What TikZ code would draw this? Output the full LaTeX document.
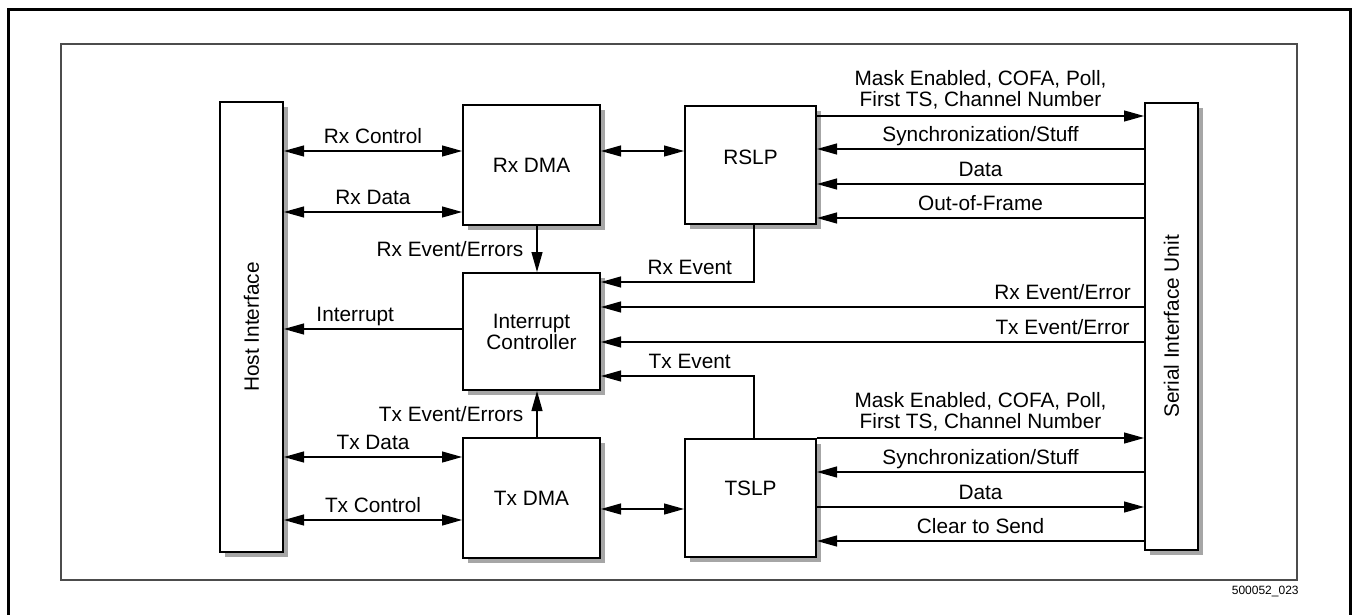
\documentclass[tikz,border=0pt]{standalone}
\usepackage{fontspec}
\setmainfont{Liberation Sans}
\usepackage{graphicx}
\usepackage{tikz}
\usetikzlibrary{
    arrows.meta,
    positioning,
    shadows
}
\tikzstyle{blk} = [
    rectangle, draw,
    line width=1pt,
    fill=white,
    align=center,
    drop shadow={shadow xshift=2.5pt, shadow yshift=-2.5pt, fill=black!35, opacity=1}
]
\tikzstyle{sig} = [
    line width=0.6pt,
    -{Triangle[length=10pt, width=5.5pt]}
]
\tikzstyle{bus} = [
    line width=0.6pt,
    {Triangle[length=10pt, width=5.5pt]}-{Triangle[length=10pt, width=5.5pt]}
]
\tikzstyle{lbl} = [
    inner sep=0pt,
    text depth=0pt,
    align=center,
    font=\fontsize{10.4}{10.5}\selectfont
]

\begin{document}
\begin{tikzpicture}[
    x=0.5pt, y=-0.5pt,
    node distance=23pt and 41.5pt,
    font=\fontsize{10.4}{10.5}\selectfont
]
\useasboundingbox (0,0) rectangle (1353,615);

% Rahmen
\draw [line width=1.5pt] (8.5,620) -- (8.5,10) -- (1350,10) -- (1350,620);
\draw [line width=1pt, black!70] (61,44) rectangle (1297,580);
\node (figno) [anchor=base east, inner sep=0pt, font=\fontsize{6}{7}\selectfont]
    at (1299,594) {500052\_023};

\node (host) [blk, minimum width=31.5pt, minimum height=225pt] at (251.5,327)
    {\rotatebox{90}{Host Interface}};
\node (rxdma) [blk, minimum width=68.5pt, minimum height=60pt] at (531.5,165)
    {Rx DMA};
\node (intc) [blk, minimum width=68.5pt, minimum height=58.5pt, below=of rxdma]
    {Interrupt\\Controller};
\node (txdma) [blk, minimum width=68.5pt, minimum height=60pt, below=of intc]
    {Tx DMA};
\node (rslp) [blk, minimum width=65.5pt, minimum height=59pt, text depth=8pt, right=of rxdma]
    {RSLP};
\node (tslp) [blk, minimum width=65.5pt, minimum height=59pt, text depth=10pt, right=of txdma]
    {TSLP};
\node (siu) [blk, minimum width=26.5pt, minimum height=223.5pt] at (1171.5,326.5)
    {\rotatebox{90}{Serial Interface Unit}};

% Host <-> DMA
\draw [bus] (host.east |- 0,151) -- node[lbl, above=3.5pt] (rxctl) {Rx Control} (rxdma.west |- 0,151);
\draw [bus] (host.east |- 0,212) -- node[lbl, above=3.5pt] (rxdat) {Rx Data} (rxdma.west |- 0,212);
\draw [bus] (host.east |- 0,457) -- node[lbl, above=3.5pt] (txdat) {Tx Data} (txdma.west |- 0,457);
\draw [bus] (host.east |- 0,520) -- node[lbl, above=3.5pt] (txctl) {Tx Control} (txdma.west |- 0,520);
\draw [bus] (rxdma.east |- 0,151) -- (rslp.west |- 0,151);
\draw [bus] (txdma.east |- 0,509) -- (tslp.west |- 0,509);

% Interrupts
\draw [sig] (intc.west |- 0,329) -- node[lbl, above=3.5pt, pos=0.6] (irq) {Interrupt} (host.east |- 0,329);
\draw [sig] (rxdma.south -| 537,0) -- node[lbl, left=6.5pt] (rxdmaev) {Rx Event/Errors} (intc.north -| 537,0);
\draw [sig] (txdma.north -| 537,0) -- node[lbl, left=6.5pt] (txdmaev) {Tx Event/Errors} (intc.south -| 537,0);
\draw [sig] ([xshift=1.75pt]rslp.south) |- node[lbl, above=3.5pt, pos=0.71] (rxev) {Rx Event} (intc.east |- 0,282);
\draw [sig] ([xshift=1.75pt]tslp.north) |- node[lbl, above=3.5pt, pos=0.71] (txev) {Tx Event} (intc.east |- 0,376);
\draw [sig] (siu.west |- 0,307) -- node[lbl, above=3.5pt, pos=0.15] (rxerr) {Rx Event/Error} (intc.east |- 0,307);
\draw [sig] (siu.west |- 0,342) -- node[lbl, above=3.5pt, pos=0.15] (txerr) {Tx Event/Error} (intc.east |- 0,342);

% Empfang
\draw [sig] (rslp.east |- 0,116) -- node[lbl, above=4.5pt] (rxmask)
    {Mask Enabled, COFA, Poll,\\First TS, Channel Number} (siu.west |- 0,116);
\draw [sig] (siu.west |- 0,149) -- node[lbl, above=3.5pt] (rxsync) {Synchronization/Stuff} (rslp.east |- 0,149);
\draw [sig] (siu.west |- 0,184) -- node[lbl, above=3.5pt] (rxdata) {Data} (rslp.east |- 0,184);
\draw [sig] (siu.west |- 0,218) -- node[lbl, above=3.5pt] (rxoof) {Out-of-Frame} (rslp.east |- 0,218);

% Senden
\draw [sig] (tslp.east |- 0,438) -- node[lbl, above=4.5pt] (txmask)
    {Mask Enabled, COFA, Poll,\\First TS, Channel Number} (siu.west |- 0,438);
\draw [sig] (siu.west |- 0,472) -- node[lbl, above=3.5pt] (txsync) {Synchronization/Stuff} (tslp.east |- 0,472);
\draw [sig] (tslp.east |- 0,507) -- node[lbl, above=3.5pt] (txdata) {Data} (siu.west |- 0,507);
\draw [sig] (siu.west |- 0,541) -- node[lbl, above=3.5pt] (txcts) {Clear to Send} (tslp.east |- 0,541);

\end{tikzpicture}
\end{document}
